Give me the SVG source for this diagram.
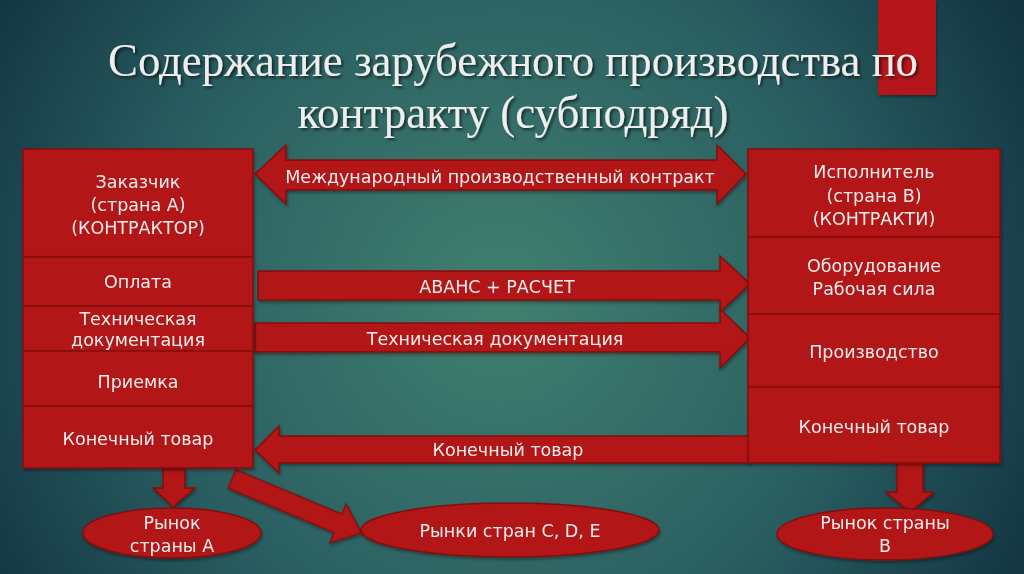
<svg xmlns="http://www.w3.org/2000/svg" width="1024" height="574" viewBox="0 0 1024 574">
  <defs>
    <radialGradient id="bg" cx="500" cy="300" r="620" gradientUnits="userSpaceOnUse">
      <stop offset="0" stop-color="#41806f"/>
      <stop offset="0.55" stop-color="#2a5f62"/>
      <stop offset="1" stop-color="#10303f"/>
    </radialGradient>
    <filter id="tshadow" x="-5%" y="-20%" width="110%" height="140%">
      <feDropShadow dx="2" dy="2" stdDeviation="1.5" flood-color="#000" flood-opacity="0.6"/>
    </filter>
    <filter id="bshadow" x="-5%" y="-5%" width="110%" height="115%">
      <feDropShadow dx="1" dy="2" stdDeviation="1.5" flood-color="#000" flood-opacity="0.35"/>
    </filter>
  </defs>
  <style>
    .box { fill: #b21416; stroke: #86100f; stroke-width: 1.5; }
    .arr { fill: #b21416; stroke: #86100f; stroke-width: 1.5; stroke-linejoin: miter; }
    .lbl { font-family: "DejaVu Sans", "Liberation Sans", sans-serif; font-size: 17.5px; fill: #f4eeee; text-anchor: middle; }
    .title { font-family: "Liberation Serif", "Times New Roman", serif; font-size: 46px; fill: #eeeeee; text-anchor: middle; }
  </style>

  <rect x="0" y="0" width="1024" height="574" fill="url(#bg)"/>
  <rect x="878" y="0" width="58" height="95" fill="#b5161a" filter="url(#bshadow)"/>

  <g id="title" filter="url(#tshadow)">
    <text class="title" x="513" y="76" textLength="810" lengthAdjust="spacingAndGlyphs">Содержание зарубежного производства по</text>
    <text class="title" x="513" y="128" textLength="431" lengthAdjust="spacingAndGlyphs">контракту (субподряд)</text>
  </g>

  <g id="connectors" filter="url(#bshadow)">
    <polygon class="arr" points="255,174 286,145 286,160 717,160 717,145 746,174 717,204 717,190 286,190 286,204"/>
    <polygon class="arr" points="255,323 720,323 720,309 750,338 720,368 720,352 255,352"/>
    <polygon class="arr" points="258,271 720,271 720,256 750,284 720,312 720,300 258,300"/>
    <polygon class="arr" points="255,450 279,426 279,436 749,436 749,463 279,463 279,473"/>
    <polygon class="arr" points="163,469 185,469 185,488 195,488 173,507 153,488 163,488"/>
    <polygon class="arr" points="897,463 923,463 923,492 934,492 910,512 886,492 897,492"/>
    <polygon class="arr" transform="translate(232,479) rotate(22.7)" points="0,-10 115,-10 115,-21 140,0 115,21 115,10 0,10"/>
    <text class="lbl" x="500" y="183">Международный производственный контракт</text>
    <text class="lbl" x="497" y="293">АВАНС + РАСЧЕТ</text>
    <text class="lbl" x="495" y="345">Техническая документация</text>
    <text class="lbl" x="508" y="456">Конечный товар</text>
  </g>

  <g id="client" filter="url(#bshadow)">
    <rect class="box" x="23" y="149" width="230" height="108"/>
    <text class="lbl" x="138" y="188">Заказчик</text>
    <text class="lbl" x="138" y="211">(страна А)</text>
    <text class="lbl" x="138" y="234">(КОНТРАКТОР)</text>
  </g>
  <g id="payment" filter="url(#bshadow)">
    <rect class="box" x="23" y="257" width="230" height="49"/>
    <text class="lbl" x="138" y="288">Оплата</text>
  </g>
  <g id="techdoc" filter="url(#bshadow)">
    <rect class="box" x="23" y="306" width="230" height="45"/>
    <text class="lbl" x="138" y="325">Техническая</text>
    <text class="lbl" x="138" y="346">документация</text>
  </g>
  <g id="acceptance" filter="url(#bshadow)">
    <rect class="box" x="23" y="351" width="230" height="55"/>
    <text class="lbl" x="138" y="388">Приемка</text>
  </g>
  <g id="final-a" filter="url(#bshadow)">
    <rect class="box" x="23" y="406" width="230" height="62"/>
    <text class="lbl" x="138" y="445">Конечный товар</text>
  </g>

  <g id="contractor" filter="url(#bshadow)">
    <rect class="box" x="748" y="149" width="252" height="88"/>
    <text class="lbl" x="874" y="178">Исполнитель</text>
    <text class="lbl" x="874" y="202">(страна В)</text>
    <text class="lbl" x="874" y="225">(КОНТРАКТИ)</text>
  </g>
  <g id="equipment" filter="url(#bshadow)">
    <rect class="box" x="748" y="237" width="252" height="77"/>
    <text class="lbl" x="874" y="272">Оборудование</text>
    <text class="lbl" x="874" y="295">Рабочая сила</text>
  </g>
  <g id="production" filter="url(#bshadow)">
    <rect class="box" x="748" y="314" width="252" height="73"/>
    <text class="lbl" x="874" y="358">Производство</text>
  </g>
  <g id="final-b" filter="url(#bshadow)">
    <rect class="box" x="748" y="387" width="252" height="76"/>
    <text class="lbl" x="874" y="433">Конечный товар</text>
  </g>

  <g id="market-a" filter="url(#bshadow)">
    <ellipse class="box" cx="172" cy="533" rx="89" ry="25"/>
    <text class="lbl" x="172" y="529">Рынок</text>
    <text class="lbl" x="172" y="552">страны А</text>
  </g>
  <g id="market-cde" filter="url(#bshadow)">
    <ellipse class="box" cx="510" cy="530" rx="149" ry="27"/>
    <text class="lbl" x="510" y="537">Рынки стран C, D, E</text>
  </g>
  <g id="market-b" filter="url(#bshadow)">
    <ellipse class="box" cx="885" cy="534" rx="108" ry="26"/>
    <text class="lbl" x="885" y="529">Рынок страны</text>
    <text class="lbl" x="885" y="552">В</text>
  </g>
</svg>
